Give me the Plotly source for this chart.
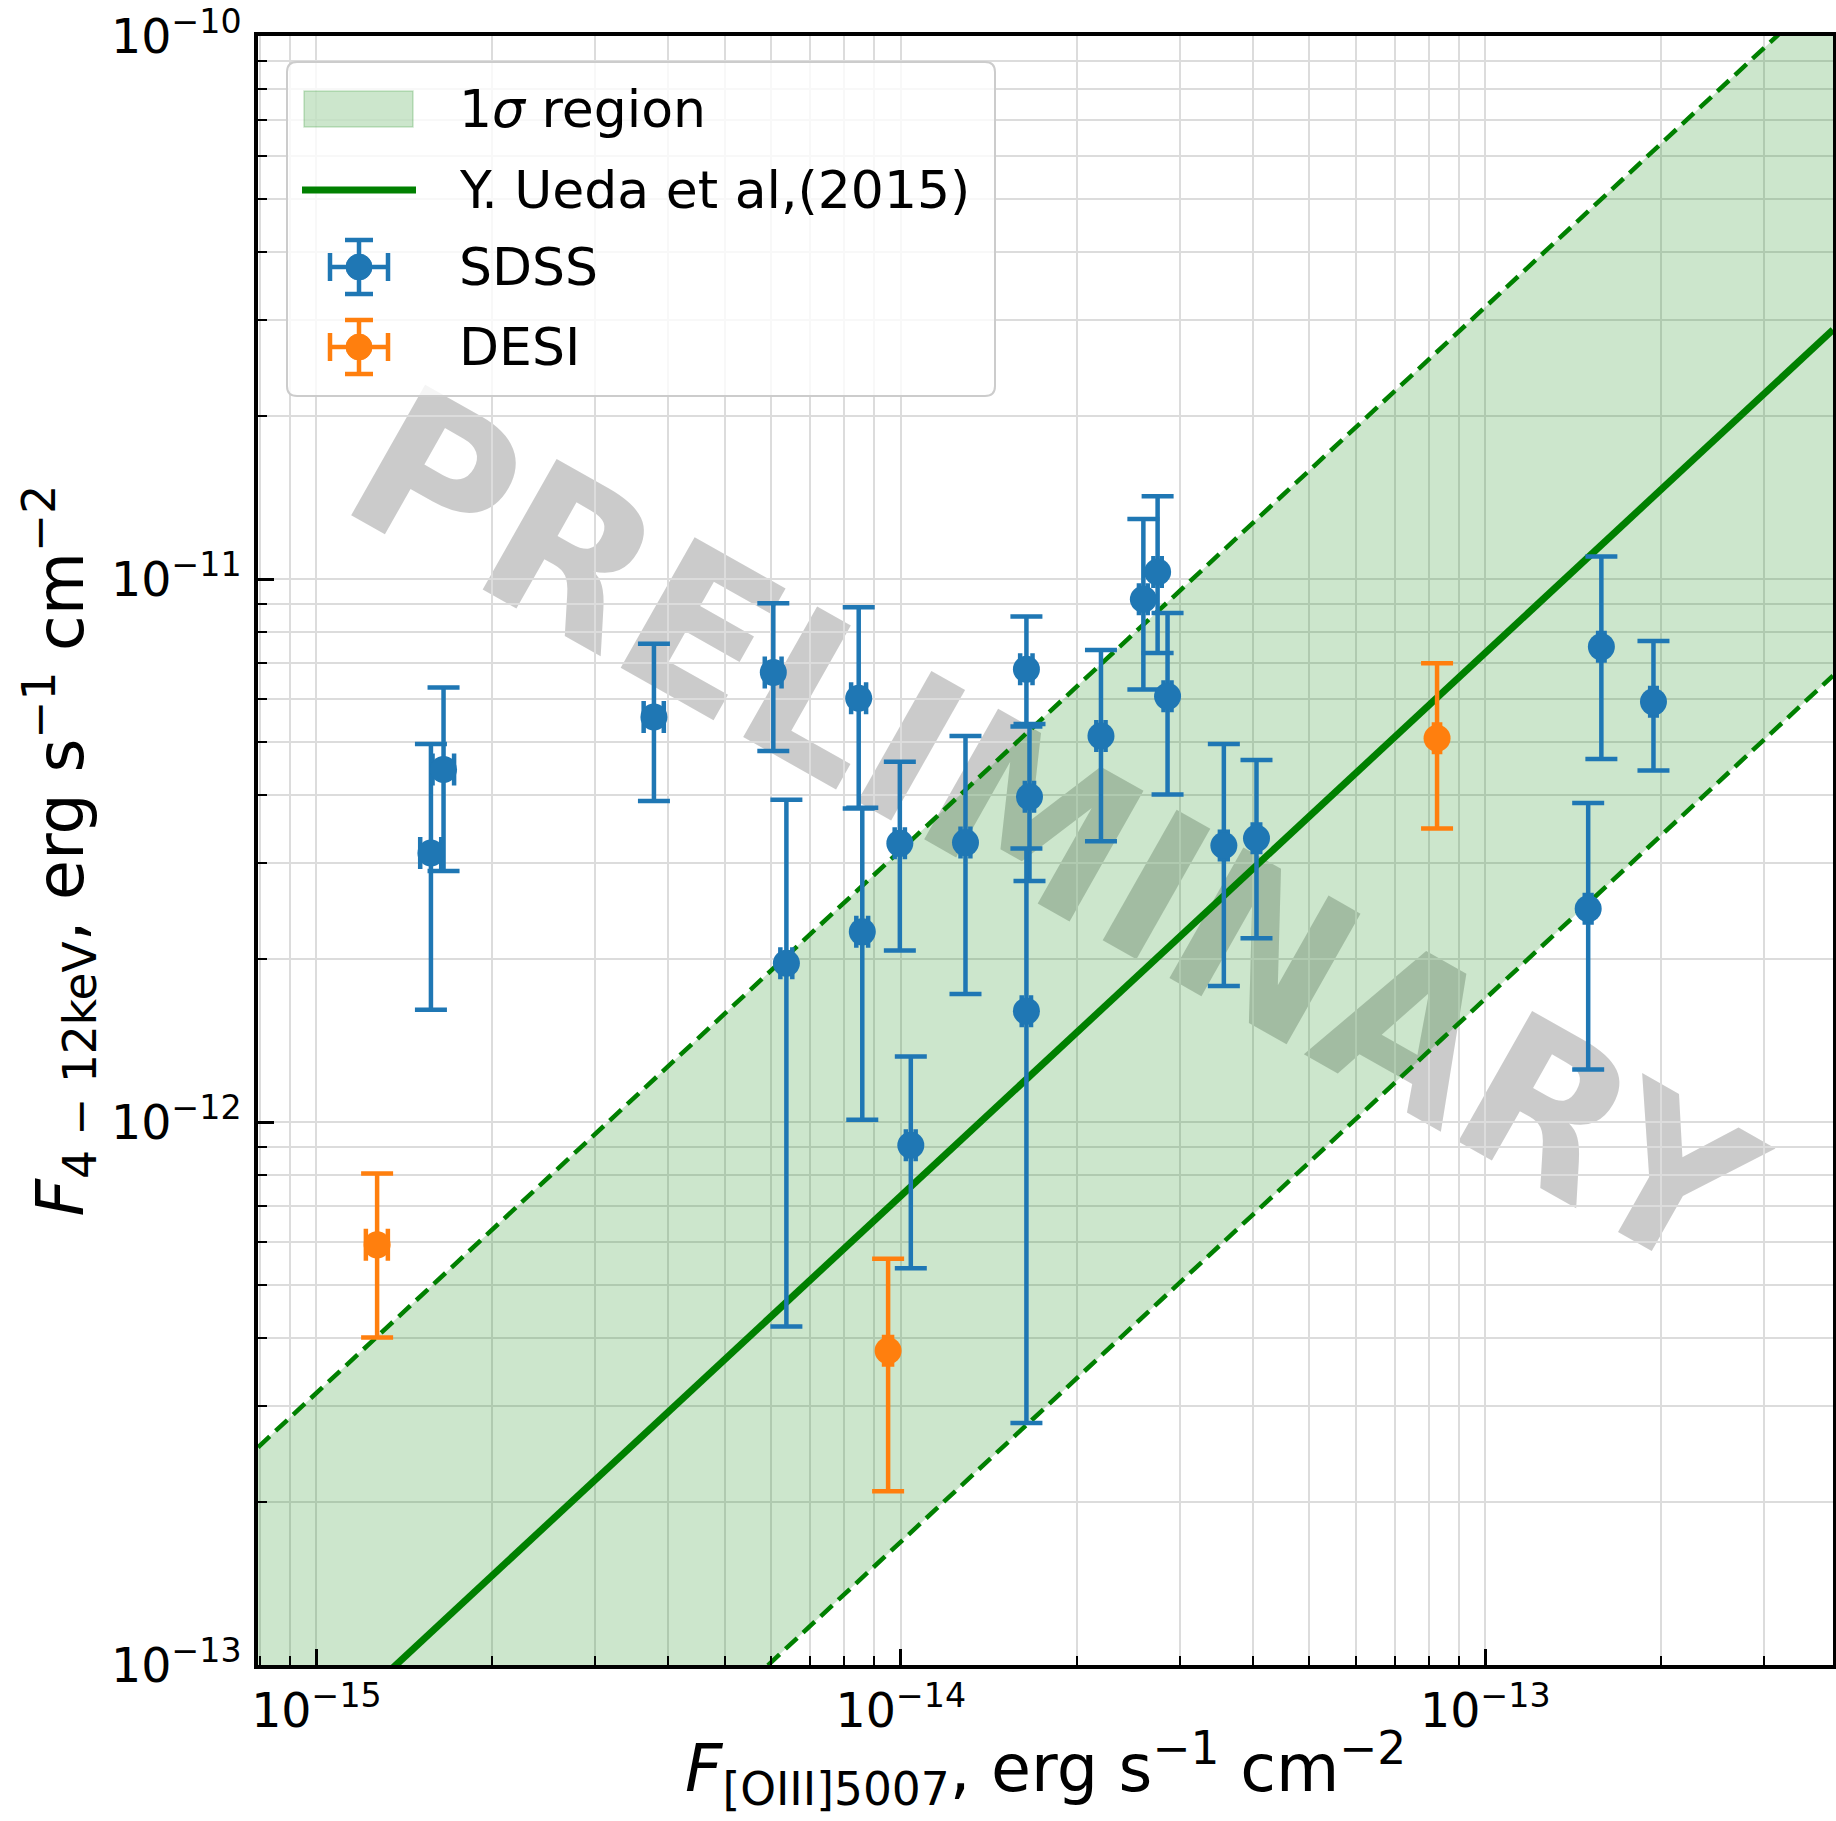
import numpy as np
import plotly.graph_objects as go

# ---------------- data ----------------
sdss_x = [1.57e-15, 1.65e-15, 3.78e-15, 6.05e-15, 6.37e-15, 8.47e-15, 8.59e-15, 9.96e-15,
          1.04e-14, 1.29e-14, 1.64e-14, 1.66e-14, 1.64e-14, 2.20e-14, 2.60e-14, 2.75e-14,
          2.86e-14, 3.57e-14, 4.06e-14, 1.50e-13, 1.58e-13, 1.94e-13]
sdss_y = [3.13e-12, 4.46e-12, 5.57e-12, 6.73e-12, 1.96e-12, 6.03e-12, 2.24e-12, 3.26e-12,
          9.06e-13, 3.27e-12, 6.82e-12, 3.97e-12, 1.60e-12, 5.14e-12, 9.18e-12, 1.03e-11,
          6.08e-12, 3.23e-12, 3.33e-12, 2.47e-12, 7.50e-12, 5.94e-12]
sdss_y_hi = [4.97e-12, 6.31e-12, 7.60e-12, 9.02e-12, 3.92e-12, 8.87e-12, 3.79e-12, 4.61e-12,
             1.32e-12, 5.14e-12, 8.53e-12, 5.41e-12, 3.19e-12, 7.40e-12, 1.29e-11, 1.42e-11,
             8.66e-12, 4.97e-12, 4.64e-12, 3.87e-12, 1.10e-11, 7.69e-12]
sdss_y_lo = [1.61e-12, 2.90e-12, 3.90e-12, 4.82e-12, 4.20e-13, 3.78e-12, 1.01e-12, 2.07e-12,
             5.38e-13, 1.72e-12, 5.35e-12, 2.78e-12, 2.79e-13, 3.29e-12, 6.26e-12, 7.31e-12,
             4.01e-12, 1.78e-12, 2.18e-12, 1.25e-12, 4.66e-12, 4.44e-12]
sdss_x_err = [6.5e-17, 7.0e-17, 1.5e-16, 2.0e-16, 1.5e-16, 2.5e-16, 2.0e-16, 2.0e-16,
              2.0e-16, 2.5e-16, 4.0e-16, 3.0e-16, 3.0e-16, 4.0e-16, 4.5e-16, 4.5e-16,
              4.5e-16, 5.5e-16, 6.0e-16, 2.0e-15, 2.0e-15, 2.5e-15]

desi_x = [1.27e-15, 9.51e-15, 8.27e-14]
desi_y = [5.94e-13, 3.79e-13, 5.09e-12]
desi_y_hi = [8.04e-13, 5.60e-13, 7.00e-12]
desi_y_lo = [4.01e-13, 2.09e-13, 3.47e-12]
desi_x_err = [5.5e-17, 1.5e-16, 1.0e-15]

# Ueda et al. (2015) relation: log F_X = log F_OIII + offset, with 1-sigma scatter
ueda_log_offset = 1.864
ueda_log_scatter = 0.637

x_range_log = [-15.1, -12.405]
y_range_log = [-13.0, -9.99995]

legend_labels = ["1<i>σ</i> region", "Y. Ueda et al,(2015)", "SDSS", "DESI"]
x_title = "<i>F</i><sub>[OIII]5007</sub>, erg s<sup>−1</sup> cm<sup>−2</sup>"
y_title = "<i>F</i><sub>4 − 12keV</sub>, erg s<sup>−1</sup> cm<sup>−2</sup>"

# ---------------- derived ----------------
xl = np.logspace(x_range_log[0], x_range_log[1], 200)
y_mid = xl * 10 ** ueda_log_offset
y_up = xl * 10 ** (ueda_log_offset + ueda_log_scatter)
y_dn = xl * 10 ** (ueda_log_offset - ueda_log_scatter)

def errs(y, hi, lo):
    y = np.array(y); return (np.array(hi) - y).tolist(), (y - np.array(lo)).tolist()

s_plus, s_minus = errs(sdss_y, sdss_y_hi, sdss_y_lo)
d_plus, d_minus = errs(desi_y, desi_y_hi, desi_y_lo)

GREEN = "#008000"
BLUE = "#1f77b4"
ORANGE = "#ff7f0e"
BAND = "rgba(0,128,0,0.2)"
FONT = "DejaVu Sans"

W, H = 1836, 1821
ML, MR, MT, MB = 258, 3, 36, 156
PW, PH = W - ML - MR, H - MT - MB

def px(x):  # pixel -> paper x
    return (x - ML) / PW

def py(y):  # pixel -> paper y
    return 1 - (y - MT) / PH

fig = go.Figure()

# band
fig.add_trace(go.Scatter(x=xl, y=y_dn, mode="lines", line=dict(width=0, color=GREEN),
                         showlegend=False, hoverinfo="skip"))
fig.add_trace(go.Scatter(x=xl, y=y_up, mode="lines", line=dict(width=0, color=GREEN),
                         fill="tonexty", fillcolor=BAND, showlegend=False, hoverinfo="skip"))
# dashed edges
for yy in (y_up, y_dn):
    fig.add_trace(go.Scatter(x=xl, y=yy, mode="lines",
                             line=dict(width=4.5, color=GREEN, dash="16px,8px"),
                             showlegend=False, hoverinfo="skip"))
# central relation
fig.add_trace(go.Scatter(x=xl, y=y_mid, mode="lines", line=dict(width=7, color=GREEN),
                         showlegend=False))

# data
for xs, ys, ep, em, ex, col in ((sdss_x, sdss_y, s_plus, s_minus, sdss_x_err, BLUE),
                                (desi_x, desi_y, d_plus, d_minus, desi_x_err, ORANGE)):
    fig.add_trace(go.Scatter(
        x=xs, y=ys, mode="markers", showlegend=False,
        marker=dict(color=col, size=27),
        error_y=dict(type="data", array=ep, arrayminus=em, color=col,
                     thickness=4.5, width=16),
        error_x=dict(type="data", array=ex, color=col, thickness=4.5, width=16)))

# watermark, drawn beneath the data
fig.add_shape(type="rect", xref="paper", yref="paper",
              x0=0.459, x1=0.559, y0=0.4704, y1=0.5704,
              line=dict(width=0), fillcolor="rgba(0,0,0,0)", layer="between",
              label=dict(text="PRELIMINARY", textangle=29.5, textposition="middle center",
                         font=dict(family=FONT, size=206, color="rgba(140,140,140,0.45)",
                                   weight="bold")))

# ---------------- legend (drawn by hand, matplotlib style) ----------------
bx0, by0, bx1, by1, rad = 287, 62, 995, 396, 10
path = (f"M {px(bx0+rad)},{py(by0)} L {px(bx1-rad)},{py(by0)} "
        f"Q {px(bx1)},{py(by0)} {px(bx1)},{py(by0+rad)} L {px(bx1)},{py(by1-rad)} "
        f"Q {px(bx1)},{py(by1)} {px(bx1-rad)},{py(by1)} L {px(bx0+rad)},{py(by1)} "
        f"Q {px(bx0)},{py(by1)} {px(bx0)},{py(by1-rad)} L {px(bx0)},{py(by0+rad)} "
        f"Q {px(bx0)},{py(by0)} {px(bx0+rad)},{py(by0)} Z")
fig.add_shape(type="path", path=path, xref="paper", yref="paper", layer="above",
              fillcolor="rgba(255,255,255,0.8)", line=dict(color="#cccccc", width=2))

row_y = [109, 190, 267, 347]
text_x = 457
fig.add_shape(type="rect", xref="paper", yref="paper", layer="above",
              x0=px(304), x1=px(413), y0=py(row_y[0] - 18), y1=py(row_y[0] + 18),
              fillcolor=BAND, line=dict(color=BAND, width=1.5))
fig.add_shape(type="line", xref="paper", yref="paper", layer="above",
              x0=px(302), x1=px(416), y0=py(row_y[1]), y1=py(row_y[1]),
              line=dict(color=GREEN, width=7))
for yc, col in ((row_y[2], BLUE), (row_y[3], ORANGE)):
    cx = 359
    segs = [((cx, yc - 27), (cx, yc + 27)), ((cx - 29, yc), (cx + 29, yc)),
            ((cx - 14, yc - 27), (cx + 14, yc - 27)), ((cx - 14, yc + 27), (cx + 14, yc + 27)),
            ((cx - 29, yc - 14), (cx - 29, yc + 14)), ((cx + 29, yc - 14), (cx + 29, yc + 14))]
    for (a, b) in segs:
        fig.add_shape(type="line", xref="paper", yref="paper", layer="above",
                      x0=px(a[0]), y0=py(a[1]), x1=px(b[0]), y1=py(b[1]),
                      line=dict(color=col, width=4.5))
    r = 13
    fig.add_shape(type="circle", xref="paper", yref="paper", layer="above",
                  x0=px(cx - r), x1=px(cx + r), y0=py(yc + r), y1=py(yc - r),
                  fillcolor=col, line=dict(color=col, width=1))

for lab, yc in zip(legend_labels, row_y):
    fig.add_annotation(x=px(text_x), y=py(yc), xref="paper", yref="paper",
                       text=lab, showarrow=False, xanchor="left", yanchor="middle",
                       font=dict(family=FONT, size=52, color="black"))

# axis titles
fig.add_annotation(x=px((ML + W - MR) / 2), y=py(1769), xref="paper", yref="paper",
                   text=x_title, showarrow=False, xanchor="center", yanchor="middle",
                   font=dict(family=FONT, size=65, color="black"))
fig.add_annotation(x=px(60), y=py((MT + H - MB) / 2), xref="paper", yref="paper",
                   text=y_title, showarrow=False, xanchor="center", yanchor="middle",
                   textangle=-90, font=dict(family=FONT, size=65, color="black"))

axis_common = dict(
    type="log", showline=True, linewidth=3.5, linecolor="black", mirror=True,
    ticks="inside", ticklen=16, tickwidth=2.5, tickcolor="black",
    dtick=1, exponentformat="power",
    showgrid=True, gridcolor="#dcdcdc", gridwidth=1.5,
    minor=dict(ticks="inside", ticklen=9, tickwidth=2, tickcolor="black",
               dtick="D1", showgrid=True, gridcolor="#dcdcdc", gridwidth=1.5),
    tickfont=dict(family=FONT, size=38, color="black"),
    zeroline=False,
)

fig.update_xaxes(**axis_common, range=x_range_log, ticklabelstandoff=3)
fig.update_yaxes(**axis_common, range=y_range_log, ticklabelstandoff=5)

fig.update_layout(
    width=W, height=H,
    margin=dict(l=ML, r=MR, t=MT, b=MB, autoexpand=False),
    paper_bgcolor="white", plot_bgcolor="white",
    font=dict(family=FONT, color="black"),
    showlegend=False,
)

fig.write_html("out.html")
